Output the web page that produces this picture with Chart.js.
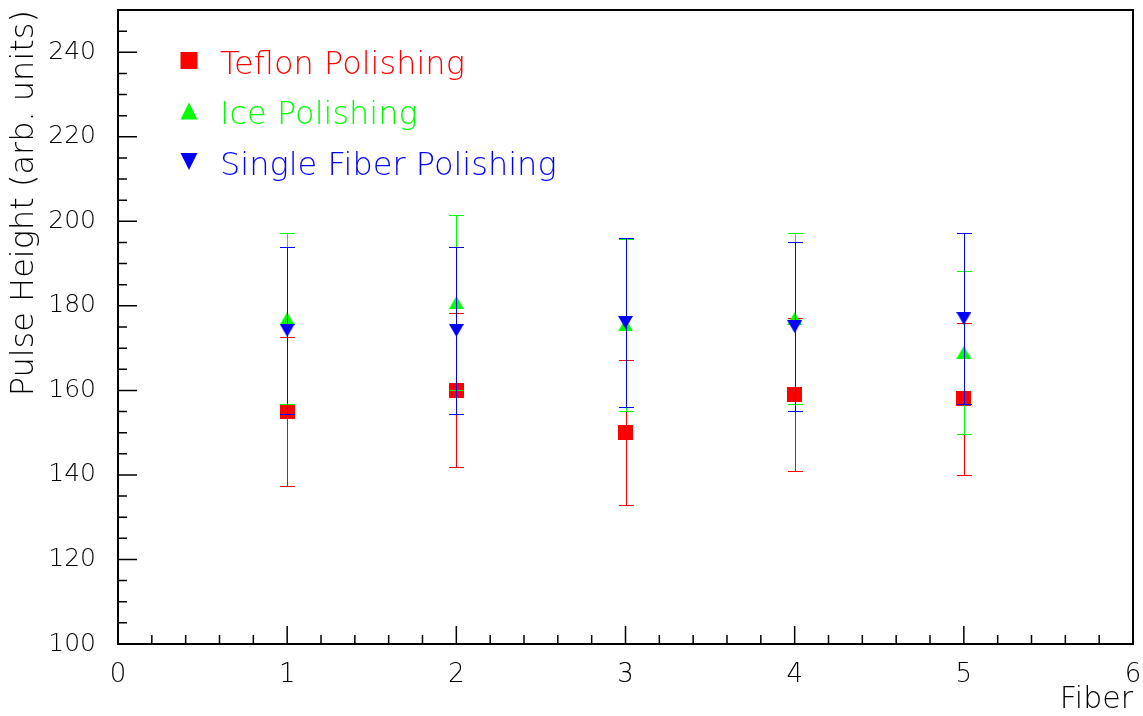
<!DOCTYPE html>
<html>
<head>
<meta charset="utf-8">
<script src="https://cdn.jsdelivr.net/npm/chart.js@4.4.0/dist/chart.umd.min.js"></script>
<style>
  html, body { margin: 0; padding: 0; background: #fff; }
  #wrap { width: 1143px; height: 716px; }
</style>
</head>
<body>
<div id="wrap"><canvas id="pulseChart" width="1143" height="716"></canvas></div>
<script>
// values
var fibers = [1, 2, 3, 4, 5];
var teflon = [155, 160, 150, 159, 158];
var teflonErr = [17.7, 18.2, 17.1, 18.1, 18.0];
var ice = [177, 180.8, 175.5, 177, 169];
var iceErr = [20.2, 20.6, 20.4, 20.2, 19.3];
var single = [174.2, 174.2, 176.1, 175.1, 177];
var singleErr = [19.8, 19.8, 20, 20, 20.2];

var xTicks = [0, 1, 2, 3, 4, 5, 6];
var yTicks = [100, 120, 140, 160, 180, 200, 220, 240];

var labels = ['Teflon Polishing', 'Ice Polishing', 'Single Fiber Polishing'];
var colors = ['#ff0000', '#00ff00', '#0000ff'];

var FONT = 'DejaVu Sans';

function marker(kind, color, w, h) {
  var c = document.createElement('canvas');
  c.width = w; c.height = h;
  var g = c.getContext('2d');
  g.fillStyle = color;
  g.beginPath();
  if (kind == 'square') {
    g.rect(0, 0, w, h);
  } else if (kind == 'up') {
    g.moveTo(w / 2, 0); g.lineTo(w, h); g.lineTo(0, h);
  } else {
    g.moveTo(0, 0); g.lineTo(w, 0); g.lineTo(w / 2, h);
  }
  g.closePath();
  g.fill();
  return c;
}

var kinds = ['square', 'up', 'down'];
var styles = [marker('square', colors[0], 15, 15), marker('up', colors[1], 15, 13), marker('down', colors[2], 15, 13)];

function pts(vals) {
  return fibers.map(function (f, i) { return { x: f, y: vals[i] }; });
}

var errs = [teflonErr, iceErr, singleErr];

var errorBars = {
  id: 'errorBars',
  beforeDatasetDraw: function (chart, args) {
    var i = args.index;
    var ds = chart.data.datasets[i];
    var xs = chart.scales.x, ys = chart.scales.y;
    var ctx = chart.ctx;
    ctx.save();
    ctx.strokeStyle = colors[i];
    ctx.lineWidth = 1;
    ds.data.forEach(function (p, j) {
      var px = Math.round(xs.getPixelForValue(p.x)) + 0.5;
      var top = Math.round(ys.getPixelForValue(p.y + errs[i][j])) + 0.5;
      var bot = Math.round(ys.getPixelForValue(p.y - errs[i][j])) + 0.5;
      ctx.beginPath();
      ctx.moveTo(px, top); ctx.lineTo(px, bot);
      ctx.moveTo(px - 7.5, top); ctx.lineTo(px + 7.5, top);
      ctx.moveTo(px - 7.5, bot); ctx.lineTo(px + 7.5, bot);
      ctx.stroke();
    });
    ctx.restore();
  }
};

var frameAndTicks = {
  id: 'frameAndTicks',
  afterDatasetsDraw: function (chart) {
    var ctx = chart.ctx, a = chart.chartArea;
    var xs = chart.scales.x, ys = chart.scales.y;
    ctx.save();
    ctx.strokeStyle = '#000';
    ctx.lineWidth = 1.5;
    ctx.beginPath();
    // x ticks, major and 5 subdivisions
    for (var k = 0; k < xTicks.length; k++) {
      var px = xs.getPixelForValue(xTicks[k]);
      ctx.moveTo(px, a.bottom); ctx.lineTo(px, a.bottom - 18);
      if (k < xTicks.length - 1) {
        for (var m = 1; m < 5; m++) {
          var v = xTicks[k] + (xTicks[k + 1] - xTicks[k]) * m / 5;
          var mx = xs.getPixelForValue(v);
          ctx.moveTo(mx, a.bottom); ctx.lineTo(mx, a.bottom - 9);
        }
      }
    }
    // y ticks, major and 4 subdivisions
    for (var k = 0; k < yTicks.length; k++) {
      var py = ys.getPixelForValue(yTicks[k]);
      ctx.moveTo(a.left, py); ctx.lineTo(a.left + 19, py);
      for (var m = 1; m < 4; m++) {
        var v = yTicks[k] + 20 * m / 4;
        if (v >= ys.max) break;
        var my = ys.getPixelForValue(v);
        ctx.moveTo(a.left, my); ctx.lineTo(a.left + 9, my);
      }
    }
    var last = yTicks[yTicks.length - 1] + 5;
    var ly = ys.getPixelForValue(last);
    ctx.moveTo(a.left, ly); ctx.lineTo(a.left + 9, ly);
    ctx.stroke();
    ctx.lineWidth = 2;
    ctx.strokeRect(a.left, a.top, a.right - a.left, a.bottom - a.top);
    ctx.restore();
  }
};

var legendInside = {
  id: 'legendInside',
  afterDraw: function (chart) {
    var ctx = chart.ctx, a = chart.chartArea;
    ctx.save();
    ctx.font = '200 32px "' + FONT + '"';
    ctx.textBaseline = 'alphabetic';
    ctx.textAlign = 'left';
    for (var i = 0; i < labels.length; i++) {
      var cy = a.top + 50.5 + i * 50.5;
      var cx = a.left + 71;
      ctx.fillStyle = colors[i];
      ctx.beginPath();
      if (kinds[i] == 'square') {
        ctx.rect(cx - 8.5, cy - 8.5, 17, 17);
      } else if (kinds[i] == 'up') {
        ctx.moveTo(cx, cy - 8.5); ctx.lineTo(cx + 8.5, cy + 8.5); ctx.lineTo(cx - 8.5, cy + 8.5);
      } else {
        ctx.moveTo(cx - 8.5, cy - 8.5); ctx.lineTo(cx + 8.5, cy - 8.5); ctx.lineTo(cx, cy + 8.5);
      }
      ctx.closePath();
      ctx.fill();
      ctx.fillText(labels[i], a.left + 102, cy + 13);
    }
    ctx.restore();
  }
};

var ctxP = document.getElementById('pulseChart').getContext('2d');
var chart = new Chart(ctxP, {
  type: 'scatter',
  data: {
    datasets: [
      { label: labels[0], data: pts(teflon), pointStyle: styles[0], order: 3 },
      { label: labels[1], data: pts(ice), pointStyle: styles[1], order: 2 },
      { label: labels[2], data: pts(single), pointStyle: styles[2], order: 1 }
    ]
  },
  options: {
    responsive: false,
    animation: false,
    devicePixelRatio: 1,
    layout: { padding: { top: 10, right: 10, left: 0, bottom: 0 } },
    plugins: {
      legend: { display: false },
      tooltip: { enabled: false }
    },
    scales: {
      x: {
        type: 'linear',
        min: 0, max: 6,
        afterBuildTicks: function (s) { s.ticks = xTicks.map(function (v) { return { value: v }; }); },
        afterFit: function (s) { s.height = 72; s.paddingLeft = 0; s.paddingRight = 0; },
        grid: { display: false },
        border: { display: false },
        ticks: { color: '#000', padding: 8, maxRotation: 0, font: { family: FONT, size: 26, weight: 200 } },
        title: { display: true, text: 'Fiber', align: 'end', color: '#000', padding: { top: 0, bottom: 1 },
          font: { family: FONT, size: 30, weight: 200, lineHeight: 1 } }
      },
      y: {
        type: 'linear',
        min: 100, max: 250,
        afterBuildTicks: function (s) { s.ticks = yTicks.map(function (v) { return { value: v }; }); },
        afterFit: function (s) { s.width = 118; s.paddingTop = 0; s.paddingBottom = 0; },
        grid: { display: false },
        border: { display: false },
        ticks: { color: '#000', padding: 14, font: { family: FONT, size: 25, weight: 200 } },
        title: { display: true, text: 'Pulse Height (arb. units)', align: 'end', color: '#000', padding: { top: 5, bottom: 0 },
          font: { family: FONT, size: 32, weight: 200 } }
      }
    }
  },
  plugins: [errorBars, frameAndTicks, legendInside]
});
</script>
</body>
</html>
